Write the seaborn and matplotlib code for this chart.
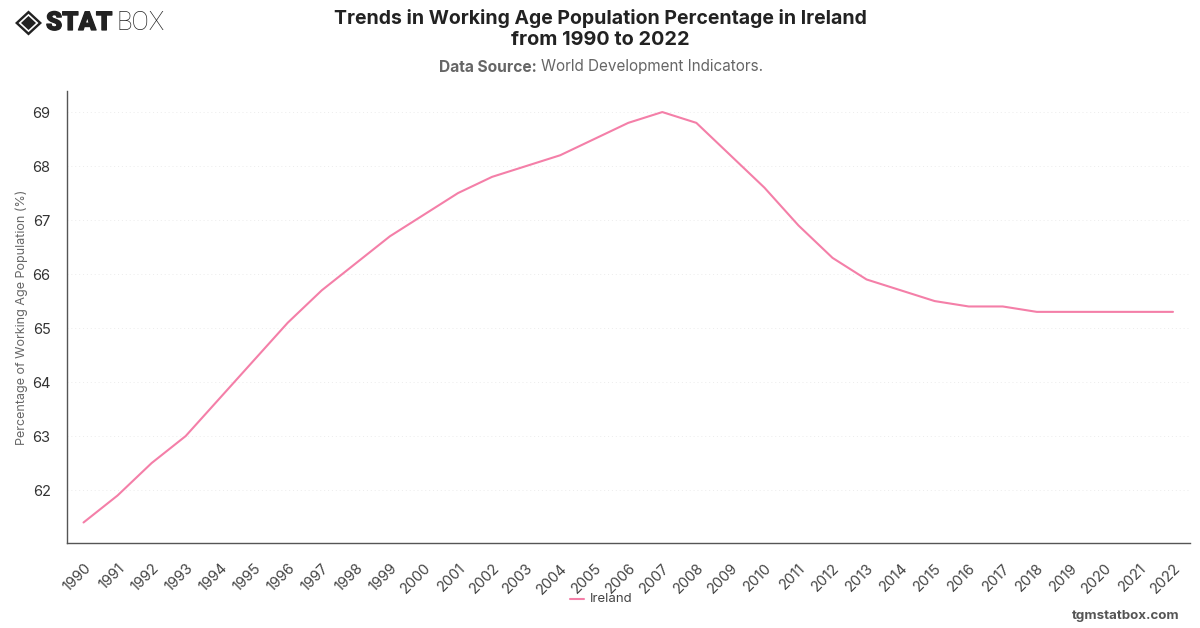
import matplotlib
matplotlib.use("Agg")
import matplotlib.pyplot as plt
from matplotlib.patches import Polygon
import matplotlib.patheffects as pe
import pandas as pd
import seaborn as sns

years = [str(y) for y in [1990, 1991, 1992, 1993, 1994, 1995, 1996, 1997, 1998, 1999, 2000,
                          2001, 2002, 2003, 2004, 2005, 2006, 2007, 2008, 2009, 2010, 2011,
                          2012, 2013, 2014, 2015, 2016, 2017, 2018, 2019, 2020, 2021, 2022]]
ireland = [61.4, 61.9, 62.5, 63.0, 63.7, 64.4, 65.1, 65.7, 66.2, 66.7, 67.1,
           67.5, 67.8, 68.0, 68.2, 68.5, 68.8, 69.0, 68.8, 68.2, 67.6, 66.9,
           66.3, 65.9, 65.7, 65.5, 65.4, 65.4, 65.3, 65.3, 65.3, 65.3, 65.3]
y_ticks = [62, 63, 64, 65, 66, 67, 68, 69]
series_name = "Ireland"
line_color = "#f47fa8"

sns.set_theme(style="white")
plt.rcParams["font.family"] = ["Inter", "DejaVu Sans"]

W, H = 1200, 628
fig = plt.figure(figsize=(W / 100, H / 100), dpi=100, facecolor="white")
ax = fig.add_axes([66.5 / W, 1 - 543 / H, (1190 - 66.5) / W, (543 - 91) / H])

df = pd.DataFrame({"Year": years, "Value": ireland, "Country": series_name})
sns.lineplot(data=df, x="Year", y="Value", color=line_color, linewidth=1.5,
             ax=ax, legend=False, sort=False)

ax.set_xlim(-0.5, 32.5)
ax.set_ylim(61.02, 69.39)
ax.set_yticks(y_ticks)
ax.yaxis.grid(True, color="#ececec", linewidth=0.7, linestyle=(0, (1, 3)))
ax.set_axisbelow(True)

for side in ("top", "right"):
    ax.spines[side].set_visible(False)
for side in ("left", "bottom"):
    ax.spines[side].set_color("#555555")
    ax.spines[side].set_linewidth(1.0)

ax.tick_params(axis="y", length=0, pad=11.5, labelsize=10.5, labelcolor="#333333")
ax.tick_params(axis="x", length=0, pad=13, labelsize=10.5, labelcolor="#444444")
ax.set_xticks(range(len(years)))
ax.set_xticklabels(years, rotation=45, ha="right", rotation_mode="anchor")
ax.set_xlabel("")
ax.set_ylabel("Percentage of Working Age Population (%)", fontsize=9, color="#666666")
ax.yaxis.set_label_coords((28 - 66.5) / (1190 - 66.5), 0.5)


def fx(px):
    return px / W


def fy(py):
    return 1 - py / H


# Heading block
fig.text(fx(600), fy(18), "Trends in Working Age Population Percentage in Ireland",
         ha="center", va="center", fontsize=14, fontweight="bold", color="#222222")
fig.text(fx(600), fy(40), "from 1990 to 2022",
         ha="center", va="center", fontsize=14.3, fontweight="bold", color="#222222")
fig.text(fx(537), fy(67), "Data Source:", ha="right", va="center",
         fontsize=11.2, fontweight="bold", color="#666666")
fig.text(fx(541), fy(67), "World Development Indicators.", ha="left", va="center",
         fontsize=11, color="#666666")

# Legend entry below the axis
fig.add_artist(plt.Line2D([fx(570), fx(584)], [fy(599), fy(599)], color=line_color, linewidth=1.5))
fig.text(fx(590), fy(599), series_name, ha="left", va="center", fontsize=9.5, color="#444444")

# Footer site name
fig.text(fx(1180), fy(616), "tgmstatbox.com", ha="right", va="center",
         fontsize=9.6, fontweight="bold", color="#555555")

# Brand mark: nested diamonds with the wordmark beside them
logo = "#222222"


def diamond(x0, x1, y0, y1, color):
    cx, cy = (x0 + x1) / 2, (y0 + y1) / 2
    fig.add_artist(Polygon([(fx(x0), fy(cy)), (fx(cx), fy(y0)), (fx(x1), fy(cy)), (fx(cx), fy(y1))],
                           closed=True, transform=fig.transFigure, facecolor=color, edgecolor="none"))


diamond(15, 42, 10.5, 35.5, logo)
diamond(18.5, 38.5, 13.8, 32.2, "white")
diamond(21, 36, 16, 30, logo)

fig.text(fx(46), fy(23), "STAT", ha="left", va="center", fontsize=18.6,
         family="Roboto", fontweight="black", color=logo,
         path_effects=[pe.withStroke(linewidth=0.9, foreground=logo)])
fig.text(fx(116.5), fy(23), "BOX", ha="left", va="center", fontsize=18.6,
         family="Roboto", fontweight="light", color=logo)

fig.savefig("out.png", dpi=100, facecolor="white")
